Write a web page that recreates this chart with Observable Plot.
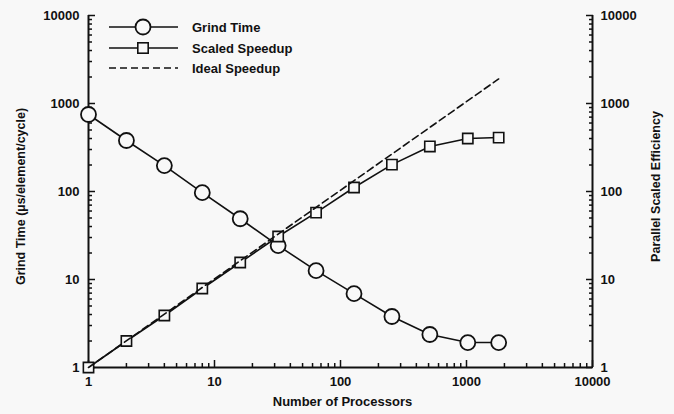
<!DOCTYPE html>
<html>
<head>
<meta charset="utf-8">
<script src="https://cdn.jsdelivr.net/npm/d3@7"></script>
<script src="https://cdn.jsdelivr.net/npm/@observablehq/plot@0.6"></script>
<style>
  html, body { margin: 0; padding: 0; background: #f8f8f8; }
  #chart { width: 674px; height: 414px; }
  svg { font-family: "Liberation Sans", Arial, Helvetica, sans-serif; }
</style>
</head>
<body>
<div id="chart"></div>
<script>
// ---- data ----
const processors = [1, 2, 4, 8, 16, 32, 64, 128, 256, 512, 1024, 1800];
const grindTime = [750, 380, 197, 97, 49, 24.3, 12.6, 6.9, 3.8, 2.37, 1.92, 1.92];
const scaledSpeedup = [1, 2, 3.9, 7.9, 15.6, 30.8, 57.6, 111, 202, 325, 400, 410];
const idealProcessors = [1, 1800];
const idealSpeedup = [1, 1900];

const majorTicks = [1, 10, 100, 1000, 10000];
const minorMultipliers = [2, 3, 4, 5, 6, 7, 8, 9];
const minorTicks = [1, 10, 100, 1000].flatMap(d => minorMultipliers.map(m => d * m));

const seriesNames = ["Grind Time", "Scaled Speedup", "Ideal Speedup"];
const leftTitle = "Grind Time (µs/element/cycle)";
const rightTitle = "Parallel Scaled Efficiency";
const xTitle = "Number of Processors";

// tables built from the arrays
const grind = processors.map((p, i) => ({p, v: grindTime[i]}));
const speed = processors.map((p, i) => ({p, v: scaledSpeedup[i]}));
const ideal = idealProcessors.map((p, i) => ({p, v: idealSpeedup[i]}));

const font = {fontSize: 13, fontWeight: "bold"};
const fmt = d => String(d);

const plot = Plot.plot({
  width: 674,
  height: 414,
  marginLeft: 88,
  marginRight: 82,
  marginTop: 15,
  marginBottom: 47,
  style: {background: "#f8f8f8", color: "#111", fontSize: "13px", fontWeight: "bold", fontFamily: '"Liberation Sans", Arial, sans-serif'},
  x: {type: "log", domain: [1, 10000], axis: null},
  y: {type: "log", domain: [1, 10000], axis: null},
  marks: [
    // axis frame lines (left, right, bottom)
    Plot.ruleX([1, 10000], {stroke: "#111", strokeWidth: 2}),
    Plot.ruleY([1], {stroke: "#111", strokeWidth: 2}),
    // left axis
    Plot.axisY({anchor: "left", ticks: majorTicks, tickSize: 0, tickPadding: 9, tickFormat: fmt, label: null, ...font}),
    Plot.axisY({anchor: "left", ticks: majorTicks, tickSize: -7, tickFormat: () => "", label: null, strokeWidth: 1.5}),
    Plot.axisY({anchor: "left", ticks: minorTicks, tickSize: -4, tickFormat: () => "", label: null, strokeWidth: 1.5}),
    // right axis
    Plot.axisY({anchor: "right", ticks: majorTicks, tickSize: 0, tickPadding: 8, tickFormat: fmt, label: null, ...font}),
    Plot.axisY({anchor: "right", ticks: majorTicks, tickSize: -7, tickFormat: () => "", label: null, strokeWidth: 1.5}),
    Plot.axisY({anchor: "right", ticks: minorTicks, tickSize: -4, tickFormat: () => "", label: null, strokeWidth: 1.5}),
    // bottom axis
    Plot.axisX({anchor: "bottom", ticks: majorTicks, tickSize: 0, tickPadding: 9, tickFormat: fmt, label: null, ...font}),
    Plot.axisX({anchor: "bottom", ticks: majorTicks, tickSize: -7, tickFormat: () => "", label: null, strokeWidth: 1.5}),
    Plot.axisX({anchor: "bottom", ticks: minorTicks, tickSize: -4, tickFormat: () => "", label: null, strokeWidth: 1.5}),
    // axis titles
    Plot.text([leftTitle], {frameAnchor: "left", textAnchor: "middle", rotate: -90, dx: -68, dy: 5, ...font, fontSize: 12.5}),
    Plot.text([rightTitle], {frameAnchor: "right", textAnchor: "middle", rotate: -90, dx: 63, dy: -5, ...font, fontSize: 12.5}),
    Plot.text([xTitle], {frameAnchor: "bottom", dy: 38, dx: 2, ...font}),
    // series
    Plot.line(grind, {x: "p", y: "v", stroke: "#111", strokeWidth: 1.6}),
    Plot.line(speed, {x: "p", y: "v", stroke: "#111", strokeWidth: 1.6}),
    Plot.dot(grind, {x: "p", y: "v", r: 7.5, fill: "#f8f8f8", stroke: "#111", strokeWidth: 1.8}),
    Plot.dot(speed, {x: "p", y: "v", symbol: "square", r: 5.8, fill: "#f8f8f8", stroke: "#111", strokeWidth: 1.6}),
    Plot.line(ideal, {x: "p", y: "v", stroke: "#111", strokeWidth: 1.6, strokeDasharray: "7,4"})
  ]
});

// legend (inside plot, top-left)
const svg = d3.select(plot);
const lg = svg.append("g").attr("font-family", '"Liberation Sans", Arial, sans-serif')
  .attr("font-size", 13).attr("font-weight", "bold").attr("fill", "#111")
  .attr("text-anchor", "start");
const rows = [27, 48, 68];
rows.forEach((yy, i) => {
  const line = lg.append("line").attr("x1", 109).attr("x2", 178).attr("y1", yy).attr("y2", yy)
    .attr("stroke", "#111").attr("stroke-width", 1.6);
  if (i === 2) line.attr("stroke-dasharray", "7,4");
  if (i === 0) lg.append("circle").attr("cx", 143).attr("cy", yy).attr("r", 7.5)
    .attr("fill", "#f8f8f8").attr("stroke", "#111").attr("stroke-width", 1.8);
  if (i === 1) lg.append("rect").attr("x", 143 - 5.2).attr("y", yy - 5.2).attr("width", 10.4).attr("height", 10.4)
    .attr("fill", "#f8f8f8").attr("stroke", "#111").attr("stroke-width", 1.6);
  lg.append("text").attr("x", 192).attr("y", yy).attr("dy", "0.35em")
    .attr("text-anchor", "start").text(seriesNames[i]);
});

document.getElementById("chart").appendChild(plot);
</script>
</body>
</html>
